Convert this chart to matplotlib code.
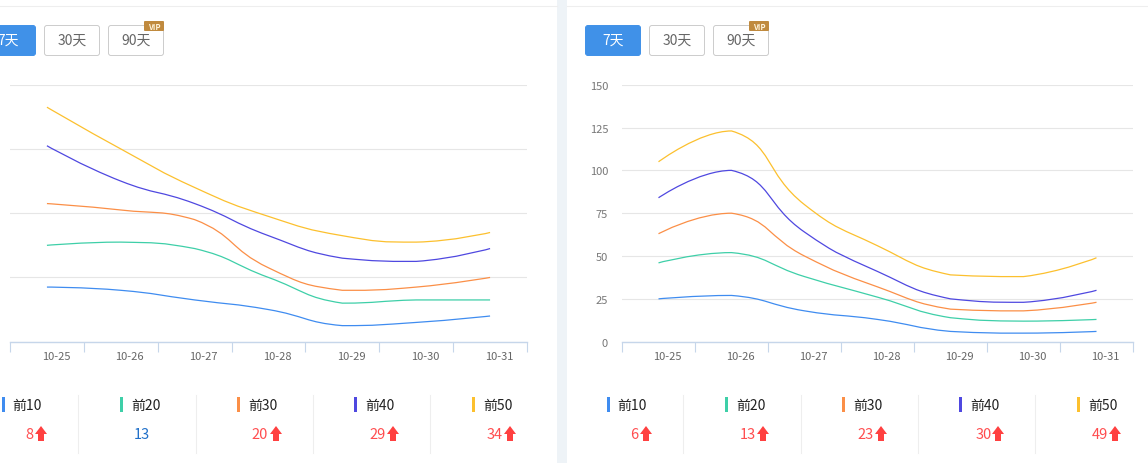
import matplotlib
matplotlib.use('Agg')
import matplotlib.pyplot as plt
from matplotlib.patches import FancyBboxPatch, PathPatch, Polygon, Rectangle
from matplotlib.path import Path

plt.rcParams['font.family'] = ['Noto Sans CJK SC', 'DejaVu Sans']

W, H = 1148, 464

dates = ['10-25', '10-26', '10-27', '10-28', '10-29', '10-30', '10-31']
names = ['前10', '前20', '前30', '前40', '前50']
colors = ['#3f8cf0', '#3ecfa8', '#fb8f47', '#4f48e0', '#fcc02e']

left_top10 = [17, 16, 13, 10, 5, 6, 8]
left_top20 = [30, 31, 29, 20, 12, 13, 13]
left_top30 = [43, 41, 38, 23, 16, 17, 20]
left_top40 = [61, 50, 43, 33, 26, 25, 29]
left_top50 = [73, 60, 48, 39, 33, 31, 34]
left_ticks = [0, 20, 40, 60, 80]

right_top10 = [25, 27, 18, 13, 6, 5, 6]
right_top20 = [46, 52, 38, 26, 14, 12, 13]
right_top30 = [63, 75, 50, 32, 19, 18, 23]
right_top40 = [84, 100, 64, 41, 25, 23, 30]
right_top50 = [105, 123, 80, 56, 39, 38, 49]
right_ticks = [0, 25, 50, 75, 100, 125, 150]

left_changes = ['8', '13', '20', '29', '34']
left_up = [True, False, True, True, True]
right_changes = ['6', '13', '23', '30', '49']
right_up = [True, True, True, True, True]


def clamp(v, a, b):
    return max(min(a, b), min(v, max(a, b)))


def smooth_path(xs, ys, px_x, px_y, s=0.5):
    # control points like the web chart: split by segment length, kept inside each segment's box
    n = len(xs)
    out_cp = [(xs[i], ys[i]) for i in range(n)]
    in_cp = [(xs[i], ys[i]) for i in range(n)]
    for i in range(1, n - 1):
        d0 = ((xs[i] - xs[i - 1]) ** 2 * px_x ** 2 + (ys[i] - ys[i - 1]) ** 2 * px_y ** 2) ** 0.5
        d1 = ((xs[i + 1] - xs[i]) ** 2 * px_x ** 2 + (ys[i + 1] - ys[i]) ** 2 * px_y ** 2) ** 0.5
        r = d1 / (d0 + d1)
        vx = (xs[i + 1] - xs[i - 1]) * s
        vy = (ys[i + 1] - ys[i - 1]) * s
        out_cp[i] = (clamp(xs[i] + vx * r, xs[i], xs[i + 1]), clamp(ys[i] + vy * r, ys[i], ys[i + 1]))
        in_cp[i] = (clamp(xs[i] - vx * (1 - r), xs[i - 1], xs[i]), clamp(ys[i] - vy * (1 - r), ys[i - 1], ys[i]))
    verts = [(xs[0], ys[0])]
    codes = [Path.MOVETO]
    for i in range(n - 1):
        verts += [out_cp[i], in_cp[i + 1], (xs[i + 1], ys[i + 1])]
        codes += [Path.CURVE4, Path.CURVE4, Path.CURVE4]
    return Path(verts, codes)


def draw_chart(fig, x0, x1, series, ticks, show_labels):
    ax = fig.add_axes([x0 / W, 1 - 342.7 / H, (x1 - x0) / W, 257 / H])
    ax.set_xlim(-0.5, len(dates) - 0.5)
    ax.set_ylim(ticks[0], ticks[-1])
    ax.patch.set_alpha(0)
    for s in ['top', 'left', 'right']:
        ax.spines[s].set_visible(False)
    ax.spines['bottom'].set_color('#c6d6ea')
    ax.spines['bottom'].set_linewidth(1)
    ax.set_yticks(ticks)
    ax.grid(axis='y', color='#e6e6e6', linewidth=0.8)
    ax.set_axisbelow(True)
    ax.tick_params(axis='y', length=0, pad=10, labelsize=8, labelcolor='#777777')
    if not show_labels:
        ax.tick_params(axis='y', labelleft=False)
    ax.set_xticks([i - 0.5 for i in range(len(dates) + 1)])
    ax.set_xticklabels([])
    ax.tick_params(axis='x', length=7, width=0.8, color='#c6d6ea')
    xs = list(range(len(dates)))
    px_x = (x1 - x0) / len(dates)
    px_y = 257 / (ticks[-1] - ticks[0])
    for y, c in zip(series, colors):
        ax.add_patch(PathPatch(smooth_path(xs, y, px_x, px_y), fill=False, edgecolor=c, linewidth=0.9))
    # the labels sit a little right of the band centres
    trans = ax.get_xaxis_transform()
    for i, d in enumerate(dates):
        ax.annotate(d, xy=(i, 0), xycoords=trans, xytext=(6.5, -10), textcoords='offset points',
                    ha='center', va='center', fontsize=8, color='#666666')
    return ax


def button(ui, x, w, label, active=False):
    fc = '#4091e8' if active else 'white'
    ec = '#4091e8' if active else '#cccccc'
    ui.add_patch(FancyBboxPatch((x + 2.5, 28.5), w - 5, 26, boxstyle='round,pad=2,rounding_size=2.5',
                                fc=fc, ec=ec, lw=0.7, mutation_aspect=1))
    ui.text(x + w / 2, 41, label, ha='center', va='center', fontsize=10,
            color='white' if active else '#666666')


def vip(ui, x):
    ui.add_patch(FancyBboxPatch((x + 1, 23), 18, 8, boxstyle='round,pad=1,rounding_size=1',
                                fc='#c08a3e', ec='none'))
    ui.text(x + 10, 27, 'VIP', ha='center', va='center', fontsize=5.5, weight='bold',
            style='italic', color='#fff4dc')


def up_arrow(ui, x):
    ui.add_patch(Polygon([(x, 427), (x + 6, 435), (x + 3, 435), (x + 3, 442),
                          (x - 3, 442), (x - 3, 435), (x - 6, 435)],
                         closed=True, fc='#ff4040', ec='none'))


def footer(ui, bar_x, text_x, dividers, val_right, arrow_x, changes, up):
    for i in range(len(names)):
        ui.add_patch(Rectangle((bar_x[i], 398), 3, 15, fc=colors[i], ec='none'))
        ui.text(text_x[i], 406, names[i], ha='left', va='center', fontsize=10, color='#222222')
        if up[i]:
            ui.text(val_right[i], 435, changes[i], ha='right', va='center', fontsize=10.5, color='#ff4d4f')
            up_arrow(ui, arrow_x[i])
        else:
            ui.text(val_right[i], 435, changes[i], ha='right', va='center', fontsize=10.5, color='#1f6fc9')
    for x in dividers:
        ui.plot([x, x], [396, 454], color='#eeeeee', linewidth=0.8)


fig = plt.figure(figsize=(W / 100, H / 100), dpi=100, facecolor='white')

ui = fig.add_axes([0, 0, 1, 1])
ui.set_xlim(0, W)
ui.set_ylim(H, 0)
ui.axis('off')

ui.add_patch(Rectangle((557, 0), 10, H, fc='#eef3f7', ec='none'))
ui.plot([0, 557], [6.5, 6.5], color='#eeeeee', linewidth=0.8)
ui.plot([567, W], [6.5, 6.5], color='#eeeeee', linewidth=0.8)

draw_chart(fig, 10, 527, [left_top10, left_top20, left_top30, left_top40, left_top50], left_ticks, False)
draw_chart(fig, 622, 1133, [right_top10, right_top20, right_top30, right_top40, right_top50], right_ticks, True)

button(ui, -20, 56, '7天', True)
button(ui, 44, 56, '30天')
button(ui, 108, 56, '90天')
vip(ui, 144)
button(ui, 585, 56, '7天', True)
button(ui, 649, 56, '30天')
button(ui, 713, 56, '90天')
vip(ui, 749)

footer(ui, [2, 120, 237, 354, 472], [12, 131, 248, 365, 483], [78, 196, 313, 430],
       [33, 150, 268, 386, 503], [41, 0, 276, 393, 510], left_changes, left_up)
footer(ui, [607, 725, 842, 959, 1077], [617, 736, 853, 970, 1088], [683, 801, 918, 1035],
       [638, 756, 874, 992, 1108], [646, 763, 881, 998, 1115], right_changes, right_up)

fig.savefig('out.png', dpi=100)
